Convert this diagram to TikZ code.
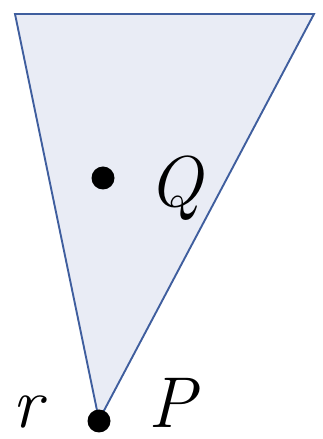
\documentclass[tikz,border=0pt]{standalone}
\usepackage{fontspec}
\definecolor{edgeblue}{HTML}{3F5E9E}
\definecolor{fillblue}{HTML}{E9ECF5}
\tikzset{
  tri/.style={draw=edgeblue, fill=fillblue, line width=1.9pt, line join=miter},
  pt/.style={circle, fill=black, inner sep=0pt, minimum size=23pt},
  lbl/.style={anchor=base west, inner sep=0pt, text depth=0pt, font=\fontsize{72}{80}\selectfont\itshape}
}
\begin{document}
\begin{tikzpicture}[x=1pt,y=1pt]
\useasboundingbox (0,0) rectangle (322,439);
\coordinate (A) at (15,425);
\coordinate (B) at (314,425);
\coordinate (C) at (99,19);
\draw[tri] (A) -- (B) -- (C) -- cycle;
\node[pt] (P) at (99,18) {};
\node[pt] (Qd) at (103,261) {};
\node[lbl] (Q) at (148,232) {Q};
\node[lbl] (Pl) at (148,11) {P};
\node[lbl] (r) at (12,11) {r};
\end{tikzpicture}
\end{document}
